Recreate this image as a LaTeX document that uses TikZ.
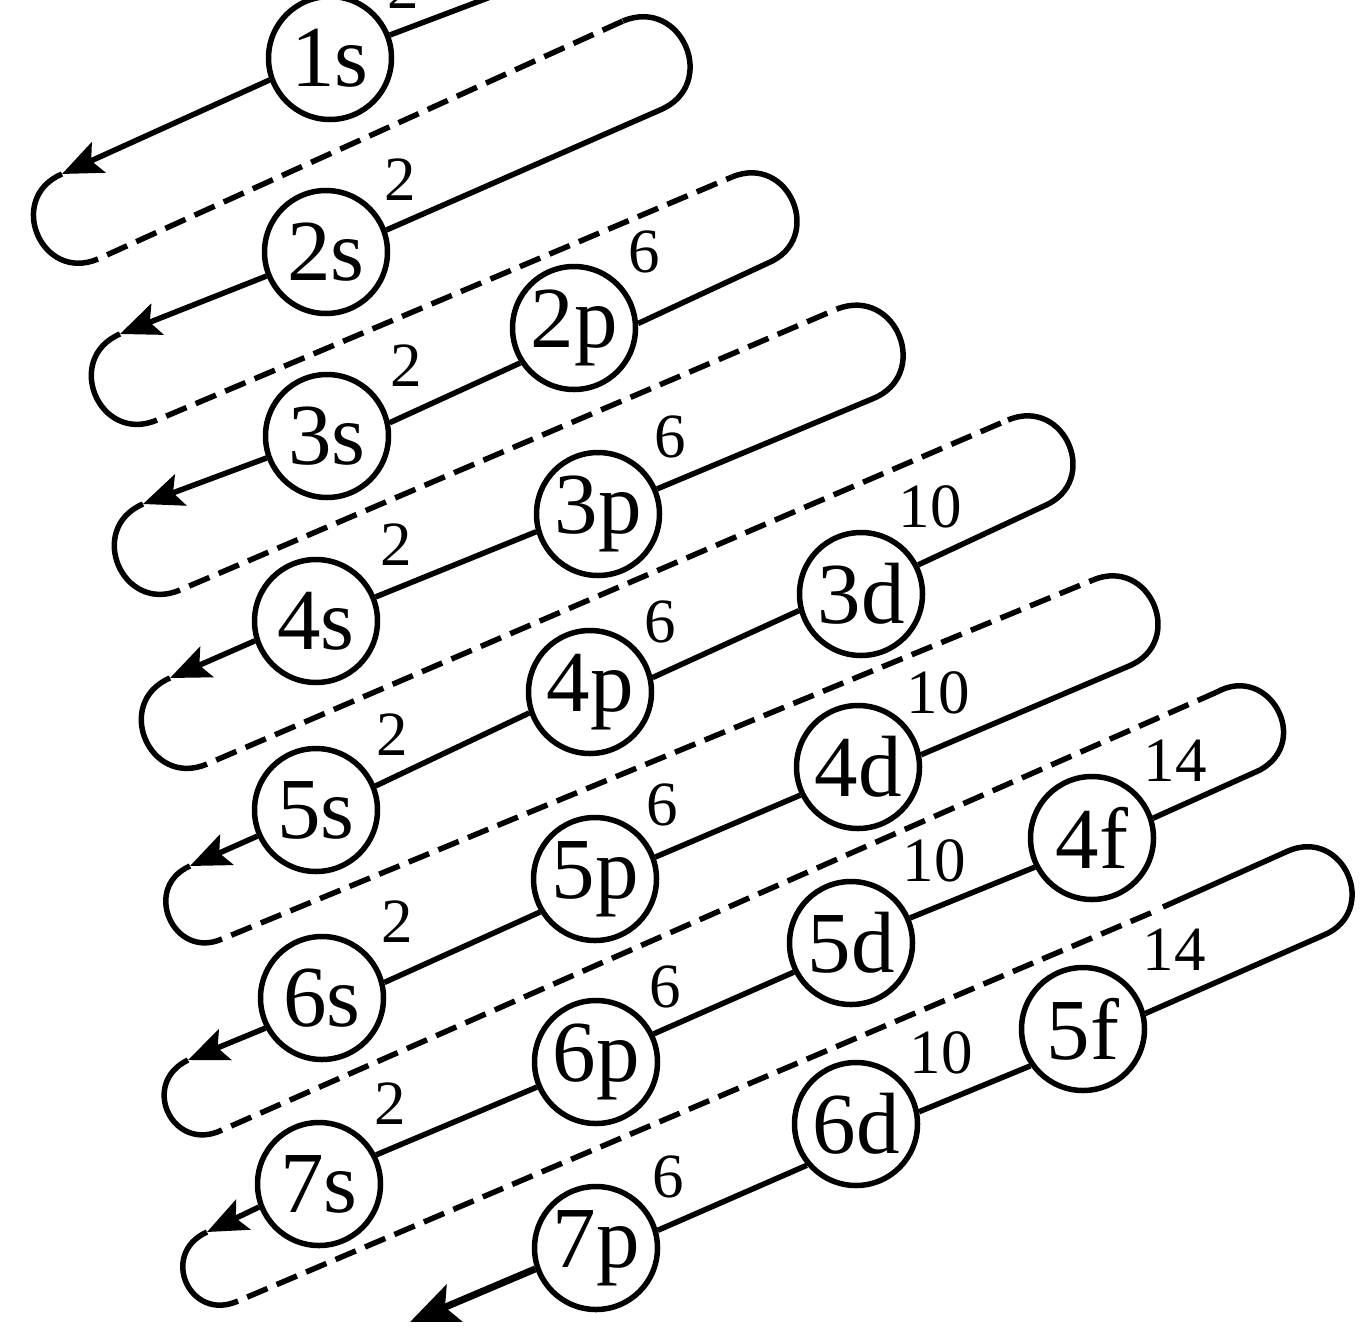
\documentclass[tikz,border=0pt]{standalone}
\usepackage{fontspec}
\setmainfont{Liberation Serif}
\usetikzlibrary{arrows.meta,calc}
\tikzset{
  orb/.style={circle, draw, line width=5.5pt, minimum size=123pt, inner sep=0pt, font=\fontsize{87}{87}\selectfont},
  expo/.style={inner sep=0pt, font=\fontsize{63}{63}\selectfont},
  lane/.style={line width=5.5pt},
  dashlane/.style={line width=5.5pt, dash pattern=on 22pt off 10pt, dash phase=22pt},
  headtip/.style={-{Stealth[length=40pt,width=33pt,inset=8pt]}},
  bighead/.style={line width=7pt, -{Stealth[length=48pt,width=40pt,inset=10pt]}},
  uturnL/.style={to path={.. controls ($(\tikztostart)!#1!-90:(\tikztotarget)$) and ($(\tikztotarget)!#1!90:(\tikztostart)$) .. (\tikztotarget)}},
  uturnL/.default=0.667,
  uturnR/.style={to path={.. controls ($(\tikztostart)!#1!90:(\tikztotarget)$) and ($(\tikztotarget)!#1!-90:(\tikztostart)$) .. (\tikztotarget)}},
  uturnR/.default=0.667,
}
\begin{document}
\begin{tikzpicture}[x=1pt,y=-1pt]
\useasboundingbox (0,0) rectangle (1365,1339);
\fill[white] (0,0) rectangle (1365,1339);
\clip (0,0) rectangle (1365,1339);
% orbitals
\node[orb] (n1s) at (330,58) {1s};
\node[orb] (n2s) at (326,252) {2s};
\node[orb] (n2p) at (574,328) {2p};
\node[orb] (n3s) at (327,436) {3s};
\node[orb] (n3p) at (598,514) {3p};
\node[orb] (n4s) at (316,621) {4s};
\node[orb] (n3d) at (861,594) {3d};
\node[orb] (n4p) at (590,692) {4p};
\node[orb] (n5s) at (316,810) {5s};
\node[orb] (n4d) at (858,767) {4d};
\node[orb] (n5p) at (595,879) {5p};
\node[orb] (n4f) at (1092,838) {4f};
\node[orb] (n6s) at (322,998) {6s};
\node[orb] (n5d) at (851,943) {5d};
\node[orb] (n6p) at (596,1062) {6p};
\node[orb] (n5f) at (1083,1029) {5f};
\node[orb] (n7s) at (319,1184) {7s};
\node[orb] (n6d) at (856,1124) {6d};
\node[orb] (n7p) at (596,1248) {7p};
% occupancies
\node[expo] (x1s) at (403,-12) {2};
\node[expo] (x2s) at (400,180) {2};
\node[expo] (x2p) at (644,252) {6};
\node[expo] (x3s) at (406,366) {2};
\node[expo] (x3p) at (670,437) {6};
\node[expo] (x4s) at (396,545) {2};
\node[expo] (x3d) at (930,507) {10};
\node[expo] (x4p) at (660,622) {6};
\node[expo] (x5s) at (392,735) {2};
\node[expo] (x4d) at (938,693) {10};
\node[expo] (x5p) at (662,805) {6};
\node[expo] (x4f) at (1175,761) {14};
\node[expo] (x6s) at (397,922) {2};
\node[expo] (x5d) at (934,861) {10};
\node[expo] (x6p) at (665,987) {6};
\node[expo] (x5f) at (1174,950) {14};
\node[expo] (x7s) at (390,1104) {2};
\node[expo] (x6d) at (941,1053) {10};
\node[expo] (x7p) at (668,1177) {6};
% turning points
\coordinate (t0) at (530,-18);
\coordinate (a1) at (62,174);   \coordinate (b1) at (98,259);
\coordinate (c1) at (623,21);   \coordinate (d1) at (660,110);
\coordinate (a2) at (120,334);  \coordinate (b2) at (157,420);
\coordinate (c2) at (732,177);  \coordinate (d2) at (768,263);
\coordinate (a3) at (143,504);  \coordinate (b3) at (180,590);
\coordinate (c3) at (837,309);  \coordinate (d3) at (872,399);
\coordinate (a4) at (170,678);  \coordinate (b4) at (207,764);
\coordinate (c4) at (1008,420); \coordinate (d4) at (1044,506);
\coordinate (a5) at (190,866);  \coordinate (b5) at (222,939);
\coordinate (c5) at (1093,580); \coordinate (d5) at (1129,666);
\coordinate (a6) at (188,1060); \coordinate (b6) at (222,1130);
\coordinate (c6) at (1217,692); \coordinate (d6) at (1260,770);
\coordinate (a7) at (207,1232); \coordinate (b7) at (238,1301);
\coordinate (e7) at (1153,912); \coordinate (f7) at (1163,907);
\coordinate (c7) at (1288,851); \coordinate (d7) at (1324,935);
\coordinate (a8) at (410,1322);
% lower-left turns
\draw[lane] (a1) to[uturnL] (b1);
\draw[lane] (a2) to[uturnL] (b2);
\draw[lane] (a3) to[uturnL] (b3);
\draw[lane] (a4) to[uturnL] (b4);
\draw[lane] (a5) to[uturnL] (b5);
\draw[lane] (a6) to[uturnL=0.7] (b6);
\draw[lane] (a7) to[uturnL=0.7] (b7);
% return (dashed) lanes
\draw[dashlane] (b1) -- (c1);
\draw[dashlane] (b2) -- (c2);
\draw[dashlane] (b3) -- (c3);
\draw[dashlane] (b4) -- (c4);
\draw[dashlane] (b5) -- (c5);
\draw[dashlane] (b6) -- (c6);
\draw[dashlane] (b7) -- (e7);
% solid lanes
\draw[lane] (t0) -- (n1s.21);
\draw[lane,headtip] (n1s.200) -- (a1);
\draw[lane] (c1) to[uturnR] (d1) -- (n2s.20);
\draw[lane,headtip] (n2s.202) -- (a2);
\draw[lane] (c2) to[uturnR] (d2) -- (n2p.4);
\draw[lane] (n2p.213) -- (n3s.12);
\draw[lane,headtip] (n3s.200) -- (a3);
\draw[lane] (c3) to[uturnR] (d3) -- (n3p.23);
\draw[lane] (n3p.196) -- (n4s.22);
\draw[lane,headtip] (n4s.198) -- (a4);
\draw[lane] (c4) to[uturnR] (d4) -- (n3d.27);
\draw[lane] (n3d.195) -- (n4p.13);
\draw[lane] (n4p.199) -- (n5s.22);
\draw[lane,headtip] (n5s.204) -- (a5);
\draw[lane] (c5) to[uturnR] (d5) -- (n4d.11);
\draw[lane] (n4d.206) -- (n5p.20);
\draw[lane] (n5p.211) -- (n6s.14);
\draw[lane,headtip] (n6s.208) -- (a6);
\draw[lane] (c6) to[uturnR] (d6) -- (n4f.18);
\draw[lane] (n4f.207) -- (n5d.23);
\draw[lane] (n5d.207) -- (n6p.26);
\draw[lane] (n6p.203) -- (n7s.27);
\draw[lane,headtip] (n7s.201) -- (a7);
\draw[lane] (f7) -- (c7) to[uturnR] (d7) -- (n5f.14);
\draw[lane] (n5f.215) -- (n6d.11);
\draw[lane] (n6d.220) -- (n7p.16);
\draw[bighead] (n7p.199) -- (a8);
\end{tikzpicture}
\end{document}
